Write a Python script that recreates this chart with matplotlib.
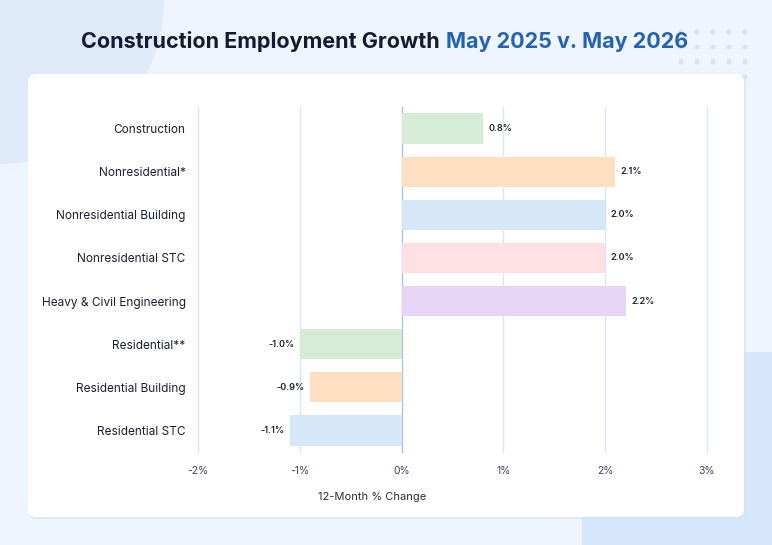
import matplotlib.pyplot as plt
from matplotlib.patches import Circle, FancyBboxPatch

# data
categories = ["Construction", "Nonresidential*", "Nonresidential Building",
              "Nonresidential STC", "Heavy & Civil Engineering", "Residential**",
              "Residential Building", "Residential STC"]
changes = [0.8, 2.1, 2.0, 2.0, 2.2, -1.0, -0.9, -1.1]
bar_colors = ["#d5ecd6", "#ffdfc1", "#d6e8f8", "#ffe0e5", "#e6d5f4",
              "#d5ecd6", "#ffdfc1", "#d6e8f8"]
x_ticks = [-2, -1, 0, 1, 2, 3]
x_tick_labels = ["-2%", "-1%", "0%", "1%", "2%", "3%"]

W, H = 772, 545
plt.rcParams['font.family'] = ['Inter', 'DejaVu Sans']
fig = plt.figure(figsize=(W / 100, H / 100), dpi=100)
fig.patch.set_facecolor("#eef5fe")


def px(x, y):
    """pixel coords (top-left origin) -> figure fraction"""
    return x / W, 1 - y / H


# background decoration
bg = fig.add_axes([0, 0, 1, 1])
bg.set_xlim(0, W)
bg.set_ylim(H, 0)
bg.axis("off")
bg.add_patch(Circle((0, 0), 164, color="#dfeafb", lw=0))
bg.add_patch(FancyBboxPatch((582, 352), 320, 320, boxstyle="round,pad=0,rounding_size=80",
                            fc="#d6e6fb", ec="none"))
for i in range(5):
    for j in range(4):
        bg.add_patch(Circle((681 + i * 16, 32 + j * 15), 2.6, color="#d3e3f8", lw=0))
bg.add_patch(FancyBboxPatch((29, 75), 717, 444, boxstyle="round,pad=0,rounding_size=8",
                            fc="#d6e2f0", ec="none", alpha=0.6))
bg.add_patch(FancyBboxPatch((28, 74), 716, 443, boxstyle="round,pad=0,rounding_size=8",
                            fc="white", ec="none"))

# title in two colours
tx, ty = px(440, 42)
fig.text(tx, ty, "Construction Employment Growth", ha="right", va="center",
         fontsize=15.5, fontweight="bold", color="#161a2e")
tx, ty = px(446, 42)
fig.text(tx, ty, "May 2025 v. May 2026", ha="left", va="center",
         fontsize=15.5, fontweight="bold", color="#2563b0")

# chart axes
l, t = px(198, 107)
r, b = px(707, 452)
ax = fig.add_axes([l, b, r - l, t - b])
ax.set_facecolor("none")
y = list(range(len(categories)))
ax.barh(y, changes, height=0.7, color=bar_colors, zorder=2)
ax.set_xlim(-2, 3)
ax.set_ylim(len(categories) - 0.5, -0.5)
for xv in x_ticks:
    ax.axvline(xv, color="#a9c5e3" if xv == 0 else "#dbe6f2", lw=1, zorder=1, clip_on=False)
for s in ax.spines.values():
    s.set_visible(False)

ax.set_xticks(x_ticks)
ax.set_xticklabels(x_tick_labels)
ax.tick_params(axis="x", length=0, pad=10, labelsize=7.5, labelcolor="#3c4263")
ax.set_yticks(y)
ax.set_yticklabels(categories)
ax.tick_params(axis="y", length=0, pad=9, labelsize=8.5, labelcolor="#1c1f33")

for yi, v in zip(y, changes):
    ax.annotate(f"{v:.1f}%", (v, yi), xytext=(4 if v > 0 else -4, 0),
                textcoords="offset points", ha="left" if v > 0 else "right",
                va="center", fontsize=6.5, fontweight="semibold", color="#1c1f33")

lx, ly = px(372, 497)
fig.text(lx, ly, "12-Month % Change", ha="center", va="center", fontsize=8, color="#2a2e45")

fig.savefig("out.png", dpi=100, facecolor=fig.get_facecolor())
